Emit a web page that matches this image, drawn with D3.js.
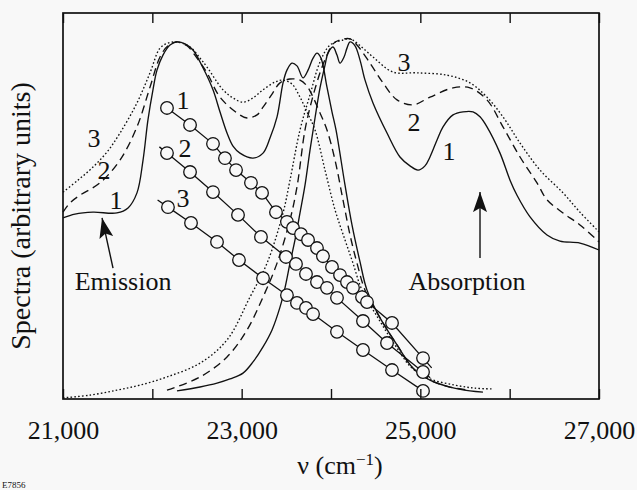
<!DOCTYPE html>
<html><head><meta charset="utf-8">
<script src="https://cdn.jsdelivr.net/npm/d3@7"></script>
<style>
html,body{margin:0;padding:0;background:#f8f8f8;}
svg{display:block;}
text{font-family:"Liberation Serif","Times New Roman",serif;fill:#111;}
</style></head>
<body><svg id="chart" width="637" height="490"></svg>
<script>
// ---------- data (x: wavenumber cm^-1, y: arbitrary units) ----------
const xTicks = [21000, 22000, 23000, 24000, 25000, 26000, 27000];
const xTickLabels = {21000: "21,000", 23000: "23,000", 25000: "25,000", 27000: "27,000"};

const emission1 = [[21000,46.9],[21134,47.9],[21336,48.4],[21604,48.2],[21728,49.5],[21828,53.4],[21896,61.9],[21951,72.3],[22007,80.1],[22052,85.2],[22119,89.1],[22198,91.7],[22276,92.5],[22366,92.0],[22455,90.4],[22567,85.8],[22679,80.1],[22757,74.4],[22836,68.9],[22903,65.5],[22981,63.7],[23127,62.4],[23239,63.7],[23317,67.6],[23396,73.1],[23463,81.9],[23507,85.2],[23563,87.0],[23619,86.3],[23687,83.2],[23743,85.2],[23799,88.3],[23843,89.6],[23888,88.3],[23955,80.8],[24011,74.4],[24056,69.7],[24157,55.4],[24235,45.1],[24325,35.5],[24403,28.2],[24549,21.0],[24739,14.0],[24918,8.0],[25108,4.9],[25332,3.1],[25556,2.1],[25701,1.8]];
const emission2 = [[21000,48.4],[21078,50.8],[21190,52.8],[21414,56.0],[21638,61.9],[21828,70.5],[21974,80.8],[22086,88.6],[22175,91.5],[22276,92.5],[22388,91.5],[22500,88.3],[22612,84.5],[22757,78.2],[22948,74.1],[23060,72.8],[23172,73.6],[23239,75.6],[23340,79.0],[23429,81.9],[23541,82.9],[23653,82.6],[23731,81.1],[23799,78.2],[23877,74.1],[23955,69.7],[24045,61.9],[24134,51.6],[24213,42.5],[24291,35.2],[24381,28.2],[24549,21.0],[24739,14.0],[24918,8.0],[25108,4.9],[25332,3.1],[25556,2.3]];
const emission3 = [[21000,53.6],[21168,56.7],[21336,60.1],[21493,64.0],[21638,68.9],[21828,76.7],[21974,84.5],[22086,90.9],[22175,92.2],[22276,92.5],[22422,91.2],[22534,88.3],[22612,86.0],[22791,80.1],[22903,78.0],[23015,76.9],[23127,78.0],[23239,80.1],[23373,82.1],[23463,82.6],[23563,81.6],[23653,78.2],[23731,74.4],[23821,69.7],[23933,59.3],[24045,49.0],[24157,41.2],[24246,35.2],[24347,28.2],[24526,21.0],[24716,14.0],[24907,8.0],[25108,5.2],[25388,3.6],[25612,2.8],[25813,2.6]];

const absorption1 = [[22276,2.1],[22534,3.1],[22724,4.1],[22869,5.2],[23015,6.7],[23127,9.6],[23239,13.5],[23340,17.9],[23429,23.8],[23485,28.8],[23541,35.2],[23597,41.2],[23653,48.2],[23709,55.4],[23765,64.5],[23821,72.8],[23877,80.6],[23933,86.5],[23966,89.6],[24022,91.2],[24067,89.1],[24101,87.0],[24146,88.6],[24179,90.9],[24213,92.5],[24269,91.5],[24325,87.8],[24381,82.6],[24470,76.7],[24627,68.9],[24772,62.7],[24884,60.4],[24974,59.3],[25052,60.4],[25108,62.7],[25187,67.1],[25254,70.5],[25366,73.6],[25478,74.4],[25590,74.4],[25668,73.1],[25746,70.5],[25892,63.7],[26004,56.7],[26082,52.8],[26228,47.2],[26418,42.5],[26563,40.9],[26787,40.4],[27000,38.6]];
const absorption2 = [[22164,2.3],[22534,5.7],[22836,10.9],[23060,17.9],[23239,26.4],[23396,35.2],[23541,46.4],[23619,54.9],[23709,69.7],[23787,77.5],[23877,84.5],[23955,89.1],[24022,92.0],[24101,93.0],[24213,93.3],[24291,91.7],[24437,87.0],[24582,81.9],[24739,77.5],[24918,76.2],[25108,78.2],[25366,80.6],[25556,80.6],[25746,77.5],[25925,70.5],[26116,62.7],[26306,56.0],[26418,51.6],[26597,48.2],[26787,45.1],[27000,40.7]];
const absorption3 = [[21000,0.3],[21302,1.0],[21604,2.3],[21862,3.6],[22164,5.7],[22534,9.3],[22836,15.3],[23093,26.4],[23284,35.2],[23463,48.2],[23541,56.7],[23653,69.7],[23765,78.8],[23877,87.3],[23989,91.7],[24134,93.0],[24213,93.3],[24291,92.2],[24470,88.6],[24694,84.7],[24963,84.5],[25299,83.9],[25556,81.9],[25746,78.2],[25925,73.1],[26116,66.3],[26340,59.3],[26597,53.4],[26787,48.4],[27000,43.3]];

const points1 = [[22164,75.4],[22422,71.0],[22679,66.1],[22813,62.4],[22937,59.3],[23104,56.0],[23228,53.4],[23384,48.4],[23507,45.9],[23575,44.3],[23664,42.7],[23743,41.2],[23843,39.1],[23910,37.0],[24011,34.2],[24101,32.1],[24179,30.3],[24246,28.8],[24347,26.4],[24403,25.1],[24683,19.7],[25030,10.6]];
const points2 = [[22164,63.7],[22422,58.8],[22679,53.6],[22959,47.7],[23216,42.0],[23496,36.8],[23608,35.0],[23720,32.4],[23843,30.3],[23955,28.8],[24067,26.2],[24358,20.2],[24627,14.5],[25030,7.0]];
const points3 = [[22175,49.7],[22433,45.6],[22724,40.7],[22970,36.0],[23239,31.3],[23507,26.9],[23619,24.9],[23720,23.6],[23799,22.0],[24067,17.4],[24358,12.7],[24683,7.5],[25030,2.1]];
// how far the connecting line runs past the first / last point (fraction of the end segment)
const lineOverhang = [[0, 0.28], [0.33, 0.2], [0.45, 0]];

const curveLabels = [
  {t:"3", x:21347, y:65.3}, {t:"2", x:21459, y:57.0}, {t:"1", x:21593, y:49.2},
  {t:"3", x:24817, y:85.0}, {t:"2", x:24929, y:69.4}, {t:"1", x:25321, y:61.9},
  {t:"1", x:22343, y:75.1}, {t:"2", x:22366, y:62.7}, {t:"3", x:22343, y:49.7}
];
const arrows = [
  {label:"Emission", from:[21560,33.9], to:[21437,46.9], lx:21672, ly:28.2},
  {label:"Absorption", from:[25668,36.5], to:[25668,53.6], lx:25522, ly:28.2}
];

// ---------- drawing ----------
const svg = d3.select("#chart");
const W = 637, H = 490;
const m = {left:63, right:38, top:13, bottom:91};
const x = d3.scaleLinear().domain([21000,27000]).range([m.left, W - m.right]);
const y = d3.scaleLinear().domain([0,100]).range([H - m.bottom, m.top]);

svg.append("rect").attr("width",W).attr("height",H).attr("fill","#f8f8f8");

const line = d3.line().x(d=>x(d[0])).y(d=>y(d[1])).curve(d3.curveCatmullRom.alpha(0.5));
const styles = [
  {dash:null},
  {dash:"8,5"},
  {dash:"1.6,2.2"}
];
const plot = svg.append("g");
[[emission1,0],[emission2,1],[emission3,2],[absorption1,0],[absorption2,1],[absorption3,2]].forEach(([data,k])=>{
  plot.append("path").datum(data).attr("d",line)
    .attr("fill","none").attr("stroke","#111").attr("stroke-width",1.35)
    .attr("stroke-dasharray",styles[k].dash);
});

// point series with connecting lines
[points1,points2,points3].forEach((pts,i)=>{
  const [a,b] = lineOverhang[i];
  const p0 = pts[0], p1 = pts[1];
  const q0 = pts[pts.length-1], q1 = pts[pts.length-2];
  const start = [p0[0] - a*(p1[0]-p0[0]), p0[1] - a*(p1[1]-p0[1])];
  const end = [q0[0] + b*(q0[0]-q1[0]), q0[1] + b*(q0[1]-q1[1])];
  const full = [start, ...pts, end];
  plot.append("path").datum(full).attr("d", d3.line().x(d=>x(d[0])).y(d=>y(d[1])))
    .attr("fill","none").attr("stroke","#111").attr("stroke-width",1.3);
  plot.selectAll(null).data(pts).enter().append("circle")
    .attr("cx",d=>x(d[0])).attr("cy",d=>y(d[1])).attr("r",6.3)
    .attr("fill","#f8f8f8").attr("stroke","#111").attr("stroke-width",1.3);
});

// labels
svg.selectAll(null).data(curveLabels).enter().append("text")
  .attr("x",d=>x(d.x)).attr("y",d=>y(d.y)).attr("text-anchor","middle")
  .attr("font-size",26).text(d=>d.t);

// arrows
const defs = svg.append("defs");
defs.append("marker").attr("id","ah").attr("viewBox","0 0 20 14").attr("refX",20).attr("refY",7)
  .attr("markerWidth",20).attr("markerHeight",14).attr("markerUnits","userSpaceOnUse").attr("orient","auto")
  .append("path").attr("d","M0,0 L20,7 L0,14 L4,7 Z").attr("fill","#111");
arrows.forEach(a=>{
  svg.append("line").attr("x1",x(a.from[0])).attr("y1",y(a.from[1]))
    .attr("x2",x(a.to[0])).attr("y2",y(a.to[1]))
    .attr("stroke","#111").attr("stroke-width",1.4).attr("marker-end","url(#ah)");
  svg.append("text").attr("x",x(a.lx)).attr("y",y(a.ly)).attr("text-anchor","middle")
    .attr("font-size",26).text(a.label);
});

// axes
const bottomAxis = svg.append("g").attr("transform",`translate(0,${H-m.bottom})`)
  .call(d3.axisBottom(x).tickValues(xTicks).tickSize(-10).tickPadding(22)
    .tickFormat(d=>xTickLabels[d] || ""));
bottomAxis.select(".domain").remove();
bottomAxis.selectAll("line").attr("stroke","#111").attr("stroke-width",1.4);
bottomAxis.selectAll("text").attr("font-size",26).attr("font-family",'"Liberation Serif","Times New Roman",serif').attr("fill","#111");

const topAxis = svg.append("g").attr("transform",`translate(0,${m.top})`)
  .call(d3.axisTop(x).tickValues(xTicks).tickSize(-10).tickFormat(""));
topAxis.select(".domain").remove();
topAxis.selectAll("line").attr("stroke","#111").attr("stroke-width",1.4);

svg.append("rect").attr("x",m.left).attr("y",m.top)
  .attr("width",W-m.left-m.right).attr("height",H-m.top-m.bottom)
  .attr("fill","none").attr("stroke","#111").attr("stroke-width",1.7);

// axis titles
const xt = svg.append("text").attr("x",340).attr("y",474).attr("text-anchor","middle").attr("font-size",26);
xt.append("tspan").text("ν (cm");
xt.append("tspan").attr("dy",-9).attr("font-size",17).text("−1");
xt.append("tspan").attr("dy",9).text(")");

svg.append("text").attr("transform","translate(30,216) rotate(-90)")
  .attr("text-anchor","middle").attr("font-size",28).text("Spectra (arbitrary units)");

svg.append("text").attr("x",2).attr("y",488).attr("font-size",9).attr("fill","#333").text("E7856");
</script></body></html>
